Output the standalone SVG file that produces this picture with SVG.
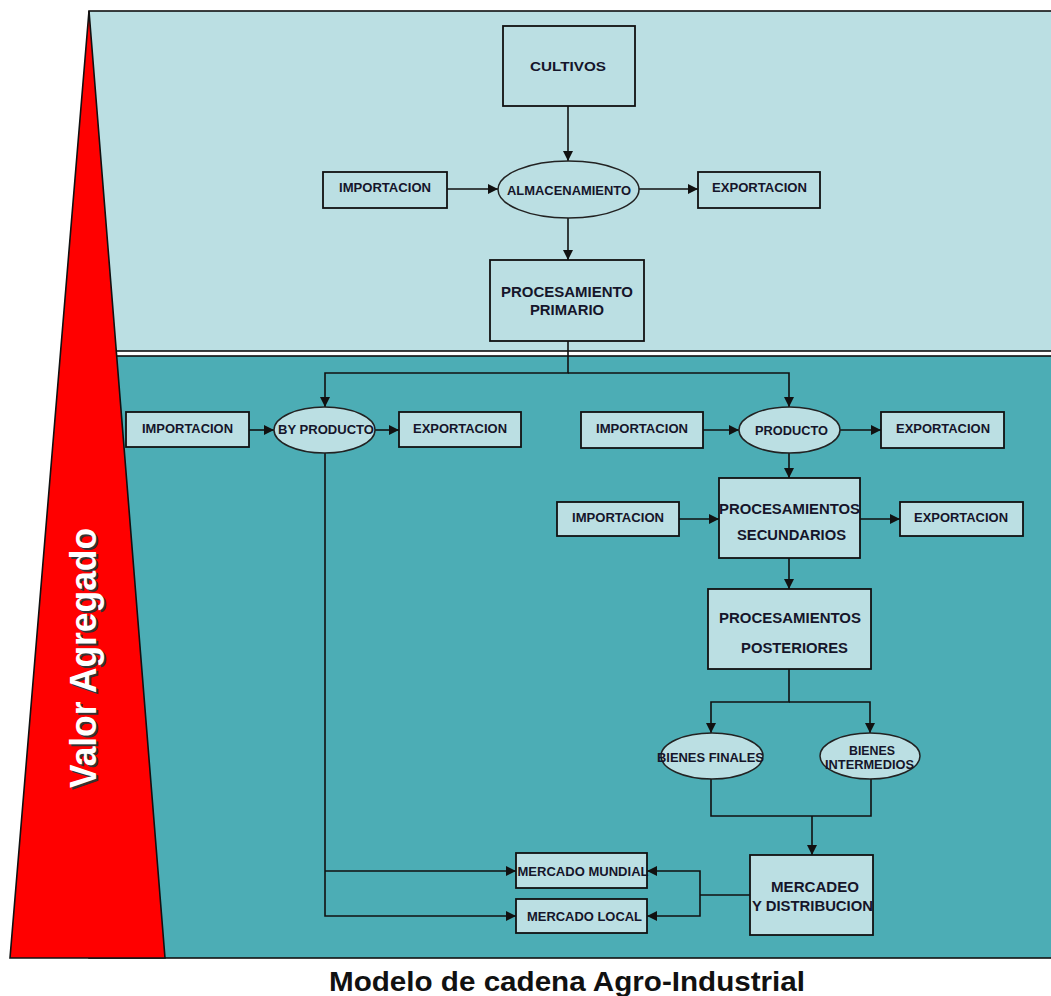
<svg xmlns="http://www.w3.org/2000/svg" width="1051" height="996" viewBox="0 0 1051 996">
<style>
.box{fill:#BBDFE3;stroke:#111;stroke-width:1.8}
.ell{fill:#BBDFE3;stroke:#222;stroke-width:1.5}
.lbl{font-family:"Liberation Sans",Arial,sans-serif;font-weight:bold;font-size:12px;fill:#15152a;text-anchor:middle}
.big{font-size:14px}
.con{fill:none;stroke:#111;stroke-width:1.6}
.arr{marker-end:url(#ah)}
</style>
<defs>
<marker id="ah" viewBox="0 0 10 10" refX="10" refY="5" markerWidth="10" markerHeight="10" markerUnits="userSpaceOnUse" orient="auto">
<path d="M0,0 L10,5 L0,10 z" fill="#111"/>
</marker>
</defs>
<rect x="0" y="0" width="1051" height="996" fill="#fff"/>
<g id="panels">
<rect x="89" y="11" width="970" height="340" fill="#BBDFE3" stroke="#111" stroke-width="1.6"/>
<rect x="89" y="356" width="970" height="602" fill="#4CADB5" stroke="#111" stroke-width="1.6"/>
</g>
<g id="valor-agregado">
<polygon points="89,11 10,958 165,958" fill="#FF0000" stroke="#111" stroke-width="1.6"/>
<text transform="translate(98,660) rotate(-90)" x="0" y="0" font-family="'Liberation Sans',Arial,sans-serif" font-weight="bold" font-size="36" fill="#333" text-anchor="middle" textLength="260" lengthAdjust="spacingAndGlyphs">Valor Agregado</text>
<text transform="translate(96,658) rotate(-90)" x="0" y="0" font-family="'Liberation Sans',Arial,sans-serif" font-weight="bold" font-size="36" fill="#fff" text-anchor="middle" textLength="260" lengthAdjust="spacingAndGlyphs">Valor Agregado</text>
</g>
<g id="connectors">
<path class="con arr" d="M568,106 V161"/>
<path class="con arr" d="M447,189 H498"/>
<path class="con arr" d="M639,189 H698"/>
<path class="con arr" d="M568,218 V260"/>
<path class="con arr" d="M568,341 V373 H325 V407"/>
<path class="con arr" d="M568,373 H789 V407"/>
<path class="con arr" d="M249,430 H274"/>
<path class="con arr" d="M375,430 H399"/>
<path class="con arr" d="M703,430 H739"/>
<path class="con arr" d="M840,430 H881"/>
<path class="con arr" d="M789,453 V478"/>
<path class="con arr" d="M679,519 H719"/>
<path class="con arr" d="M860,519 H900"/>
<path class="con arr" d="M789,558 V589"/>
<path class="con arr" d="M789,669 V702 H711 V733"/>
<path class="con arr" d="M789,702 H870 V733"/>
<path class="con" d="M711,779 V816 H871 V779"/>
<path class="con arr" d="M812,816 V855"/>
<path class="con arr" d="M325,453 V916 H516"/>
<path class="con arr" d="M325,871 H516"/>
<path class="con" d="M750,895 H700"/>
<path class="con arr" d="M700,895 V871 H647"/>
<path class="con arr" d="M700,895 V916 H647"/>
</g>
<g id="cultivos">
<rect class="box" x="503" y="26" width="132" height="80"/>
<text class="lbl" x="568" y="71" textLength="76" lengthAdjust="spacingAndGlyphs">CULTIVOS</text>
</g>
<g id="almacenamiento">
<ellipse class="ell" cx="568.5" cy="189.5" rx="70.5" ry="28.5"/>
<text class="lbl" x="569" y="195" textLength="124" lengthAdjust="spacingAndGlyphs">ALMACENAMIENTO</text>
</g>
<g id="importacion-1">
<rect class="box" x="323" y="172" width="124" height="36"/>
<text class="lbl" x="385" y="192" textLength="92" lengthAdjust="spacingAndGlyphs">IMPORTACION</text>
</g>
<g id="exportacion-1">
<rect class="box" x="698" y="172" width="122" height="36"/>
<text class="lbl" x="759.5" y="191.5" textLength="95" lengthAdjust="spacingAndGlyphs">EXPORTACION</text>
</g>
<g id="procesamiento-primario">
<rect class="box" x="490" y="260" width="154" height="81"/>
<text class="lbl big" x="567" y="297" textLength="132" lengthAdjust="spacingAndGlyphs">PROCESAMIENTO</text>
<text class="lbl big" x="567" y="315" textLength="74" lengthAdjust="spacingAndGlyphs">PRIMARIO</text>
</g>
<g id="importacion-2">
<rect class="box" x="126" y="412" width="123" height="35"/>
<text class="lbl" x="187.5" y="433" textLength="91" lengthAdjust="spacingAndGlyphs">IMPORTACION</text>
</g>
<g id="by-producto">
<ellipse class="ell" cx="324.5" cy="430" rx="50.5" ry="23"/>
<text class="lbl" x="326" y="434" textLength="96" lengthAdjust="spacingAndGlyphs">BY PRODUCTO</text>
</g>
<g id="exportacion-2">
<rect class="box" x="399" y="412" width="122" height="35"/>
<text class="lbl" x="460" y="433" textLength="94" lengthAdjust="spacingAndGlyphs">EXPORTACION</text>
</g>
<g id="importacion-3">
<rect class="box" x="581" y="412" width="122" height="36"/>
<text class="lbl" x="642" y="433" textLength="92" lengthAdjust="spacingAndGlyphs">IMPORTACION</text>
</g>
<g id="producto">
<ellipse class="ell" cx="789.5" cy="430" rx="50.5" ry="23"/>
<text class="lbl" x="791.5" y="435" textLength="73" lengthAdjust="spacingAndGlyphs">PRODUCTO</text>
</g>
<g id="exportacion-3">
<rect class="box" x="881" y="412" width="123" height="36"/>
<text class="lbl" x="943" y="433" textLength="94" lengthAdjust="spacingAndGlyphs">EXPORTACION</text>
</g>
<g id="importacion-4">
<rect class="box" x="557" y="502" width="122" height="34"/>
<text class="lbl" x="618" y="522" textLength="92" lengthAdjust="spacingAndGlyphs">IMPORTACION</text>
</g>
<g id="procesamientos-secundarios">
<rect class="box" x="719" y="478" width="141" height="80"/>
<text class="lbl big" x="789.5" y="514" textLength="141" lengthAdjust="spacingAndGlyphs">PROCESAMIENTOS</text>
<text class="lbl big" x="791.5" y="540" textLength="109" lengthAdjust="spacingAndGlyphs">SECUNDARIOS</text>
</g>
<g id="exportacion-4">
<rect class="box" x="900" y="502" width="123" height="34"/>
<text class="lbl" x="961" y="522" textLength="94" lengthAdjust="spacingAndGlyphs">EXPORTACION</text>
</g>
<g id="procesamientos-posteriores">
<rect class="box" x="708" y="589" width="163" height="80"/>
<text class="lbl big" x="790" y="623" textLength="142" lengthAdjust="spacingAndGlyphs">PROCESAMIENTOS</text>
<text class="lbl big" x="794.5" y="653" textLength="107" lengthAdjust="spacingAndGlyphs">POSTERIORES</text>
</g>
<g id="bienes-finales">
<ellipse class="ell" cx="712" cy="756" rx="51" ry="23"/>
<text class="lbl" x="710.5" y="762" textLength="107" lengthAdjust="spacingAndGlyphs">BIENES FINALES</text>
</g>
<g id="bienes-intermedios">
<ellipse class="ell" cx="870" cy="756" rx="50" ry="23"/>
<text class="lbl" x="872" y="755" textLength="46" lengthAdjust="spacingAndGlyphs">BIENES</text>
<text class="lbl" x="869.5" y="769" textLength="89" lengthAdjust="spacingAndGlyphs">INTERMEDIOS</text>
</g>
<g id="mercadeo-distribucion">
<rect class="box" x="750" y="855" width="123" height="80"/>
<text class="lbl big" x="815" y="892" textLength="88" lengthAdjust="spacingAndGlyphs">MERCADEO</text>
<text class="lbl big" x="812.5" y="911" textLength="121" lengthAdjust="spacingAndGlyphs">Y DISTRIBUCION</text>
</g>
<g id="mercado-mundial">
<rect class="box" x="516" y="853" width="131" height="35"/>
<text class="lbl" x="583" y="876" textLength="131" lengthAdjust="spacingAndGlyphs">MERCADO MUNDIAL</text>
</g>
<g id="mercado-local">
<rect class="box" x="516" y="899" width="131" height="34"/>
<text class="lbl" x="584.5" y="921" textLength="115" lengthAdjust="spacingAndGlyphs">MERCADO LOCAL</text>
</g>
<text x="567" y="991" font-family="'Liberation Sans',Arial,sans-serif" font-weight="bold" font-size="28" fill="#111" text-anchor="middle" textLength="476" lengthAdjust="spacingAndGlyphs">Modelo de cadena Agro-Industrial</text>
</svg>
